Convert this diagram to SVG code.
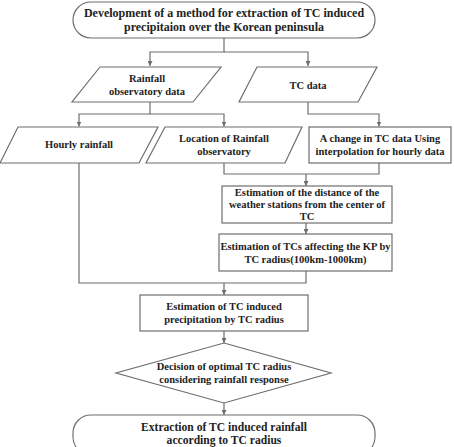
<svg xmlns="http://www.w3.org/2000/svg" width="454" height="447" viewBox="0 0 454 447">
<style>
.s{fill:#fff;stroke:#6e6e6e;stroke-width:1.2}
.c{fill:none;stroke:#6e6e6e;stroke-width:1.2}
text{font-family:"Liberation Serif","Times New Roman",serif;font-weight:bold;fill:#222;text-anchor:middle}
.t{font-size:12px}
.b{font-size:11.6px}
.n{font-size:10.5px}
</style>
<defs>
<marker id="a" viewBox="0 0 10 10" refX="10" refY="5" markerWidth="5" markerHeight="5" orient="auto" markerUnits="userSpaceOnUse">
<path d="M0,0L10,5L0,10Z" fill="#6e6e6e"/>
</marker>
</defs>
<rect width="454" height="447" fill="#fff"/>
<g id="connectors">
<path class="c" d="M224,38V52H150V66" marker-end="url(#a)"/>
<path class="c" d="M224,52H308V66" marker-end="url(#a)"/>
<path class="c" d="M150,102V114H79V126.5" marker-end="url(#a)"/>
<path class="c" d="M150,114H224V126.5" marker-end="url(#a)"/>
<path class="c" d="M308,102V114H379V126.5" marker-end="url(#a)"/>
<path class="c" d="M224,163V174H379V163"/>
<path class="c" d="M306,174V186" marker-end="url(#a)"/>
<path class="c" d="M306,223V234" marker-end="url(#a)"/>
<path class="c" d="M79,163V283H306V271"/>
<path class="c" d="M224,283V295" marker-end="url(#a)"/>
<path class="c" d="M224,331V343" marker-end="url(#a)"/>
<path class="c" d="M224,403V415" marker-end="url(#a)"/>
</g>
<g id="start">
<rect class="s" x="73" y="2" width="302" height="36" rx="18"/>
<text class="t" x="224" y="17">Development of a method for extraction of TC induced</text>
<text class="t" x="224" y="31">precipitaion over the Korean peninsula</text>
</g>
<g id="rainfall-data">
<path class="s" d="M100,67H221L193,102H72Z"/>
<text class="n" x="147" y="82">Rainfall</text>
<text class="n" x="147" y="95">observatory data</text>
</g>
<g id="tc-data">
<path class="s" d="M257,67H377L358,102H239Z"/>
<text class="n" x="308" y="89">TC data</text>
</g>
<g id="hourly">
<path class="s" d="M18,127H158L139,163H0Z"/>
<text class="n" x="79" y="148">Hourly rainfall</text>
</g>
<g id="location">
<path class="s" d="M165,127H302L285,163H146Z"/>
<text class="n" x="224" y="142">Location of Rainfall</text>
<text class="n" x="224" y="155">observatory</text>
</g>
<g id="tc-change">
<rect class="s" x="309" y="127" width="142" height="36"/>
<text class="n" x="380" y="142">A change in TC data Using</text>
<text class="n" x="380" y="155">interpolation for hourly data</text>
</g>
<g id="distance">
<rect class="s" x="222" y="186" width="170" height="37"/>
<text class="n" x="307" y="196">Estimation of the distance of the</text>
<text class="n" x="307" y="208">weather stations from the center of</text>
<text class="n" x="307" y="220">TC</text>
</g>
<g id="affecting">
<rect class="s" x="219" y="234" width="173" height="37"/>
<text class="n" x="305.5" y="250">Estimation of TCs affecting the KP by</text>
<text class="n" x="305.5" y="263">TC radius(100km-1000km)</text>
</g>
<g id="estimation">
<rect class="s" x="140" y="295" width="168" height="36"/>
<text class="n" x="224" y="310">Estimation of TC induced</text>
<text class="n" x="224" y="323">precipitation by TC radius</text>
</g>
<g id="decision">
<path class="s" d="M224,343L331,373L224,403L116,373Z"/>
<text class="n" x="224" y="370">Decision of optimal TC radius</text>
<text class="n" x="224" y="383">considering rainfall response</text>
</g>
<g id="end">
<rect class="s" x="73" y="415" width="302" height="40" rx="18"/>
<text class="b" x="224" y="431">Extraction of TC induced rainfall</text>
<text class="b" x="224" y="444">according to TC radius</text>
</g>
</svg>
